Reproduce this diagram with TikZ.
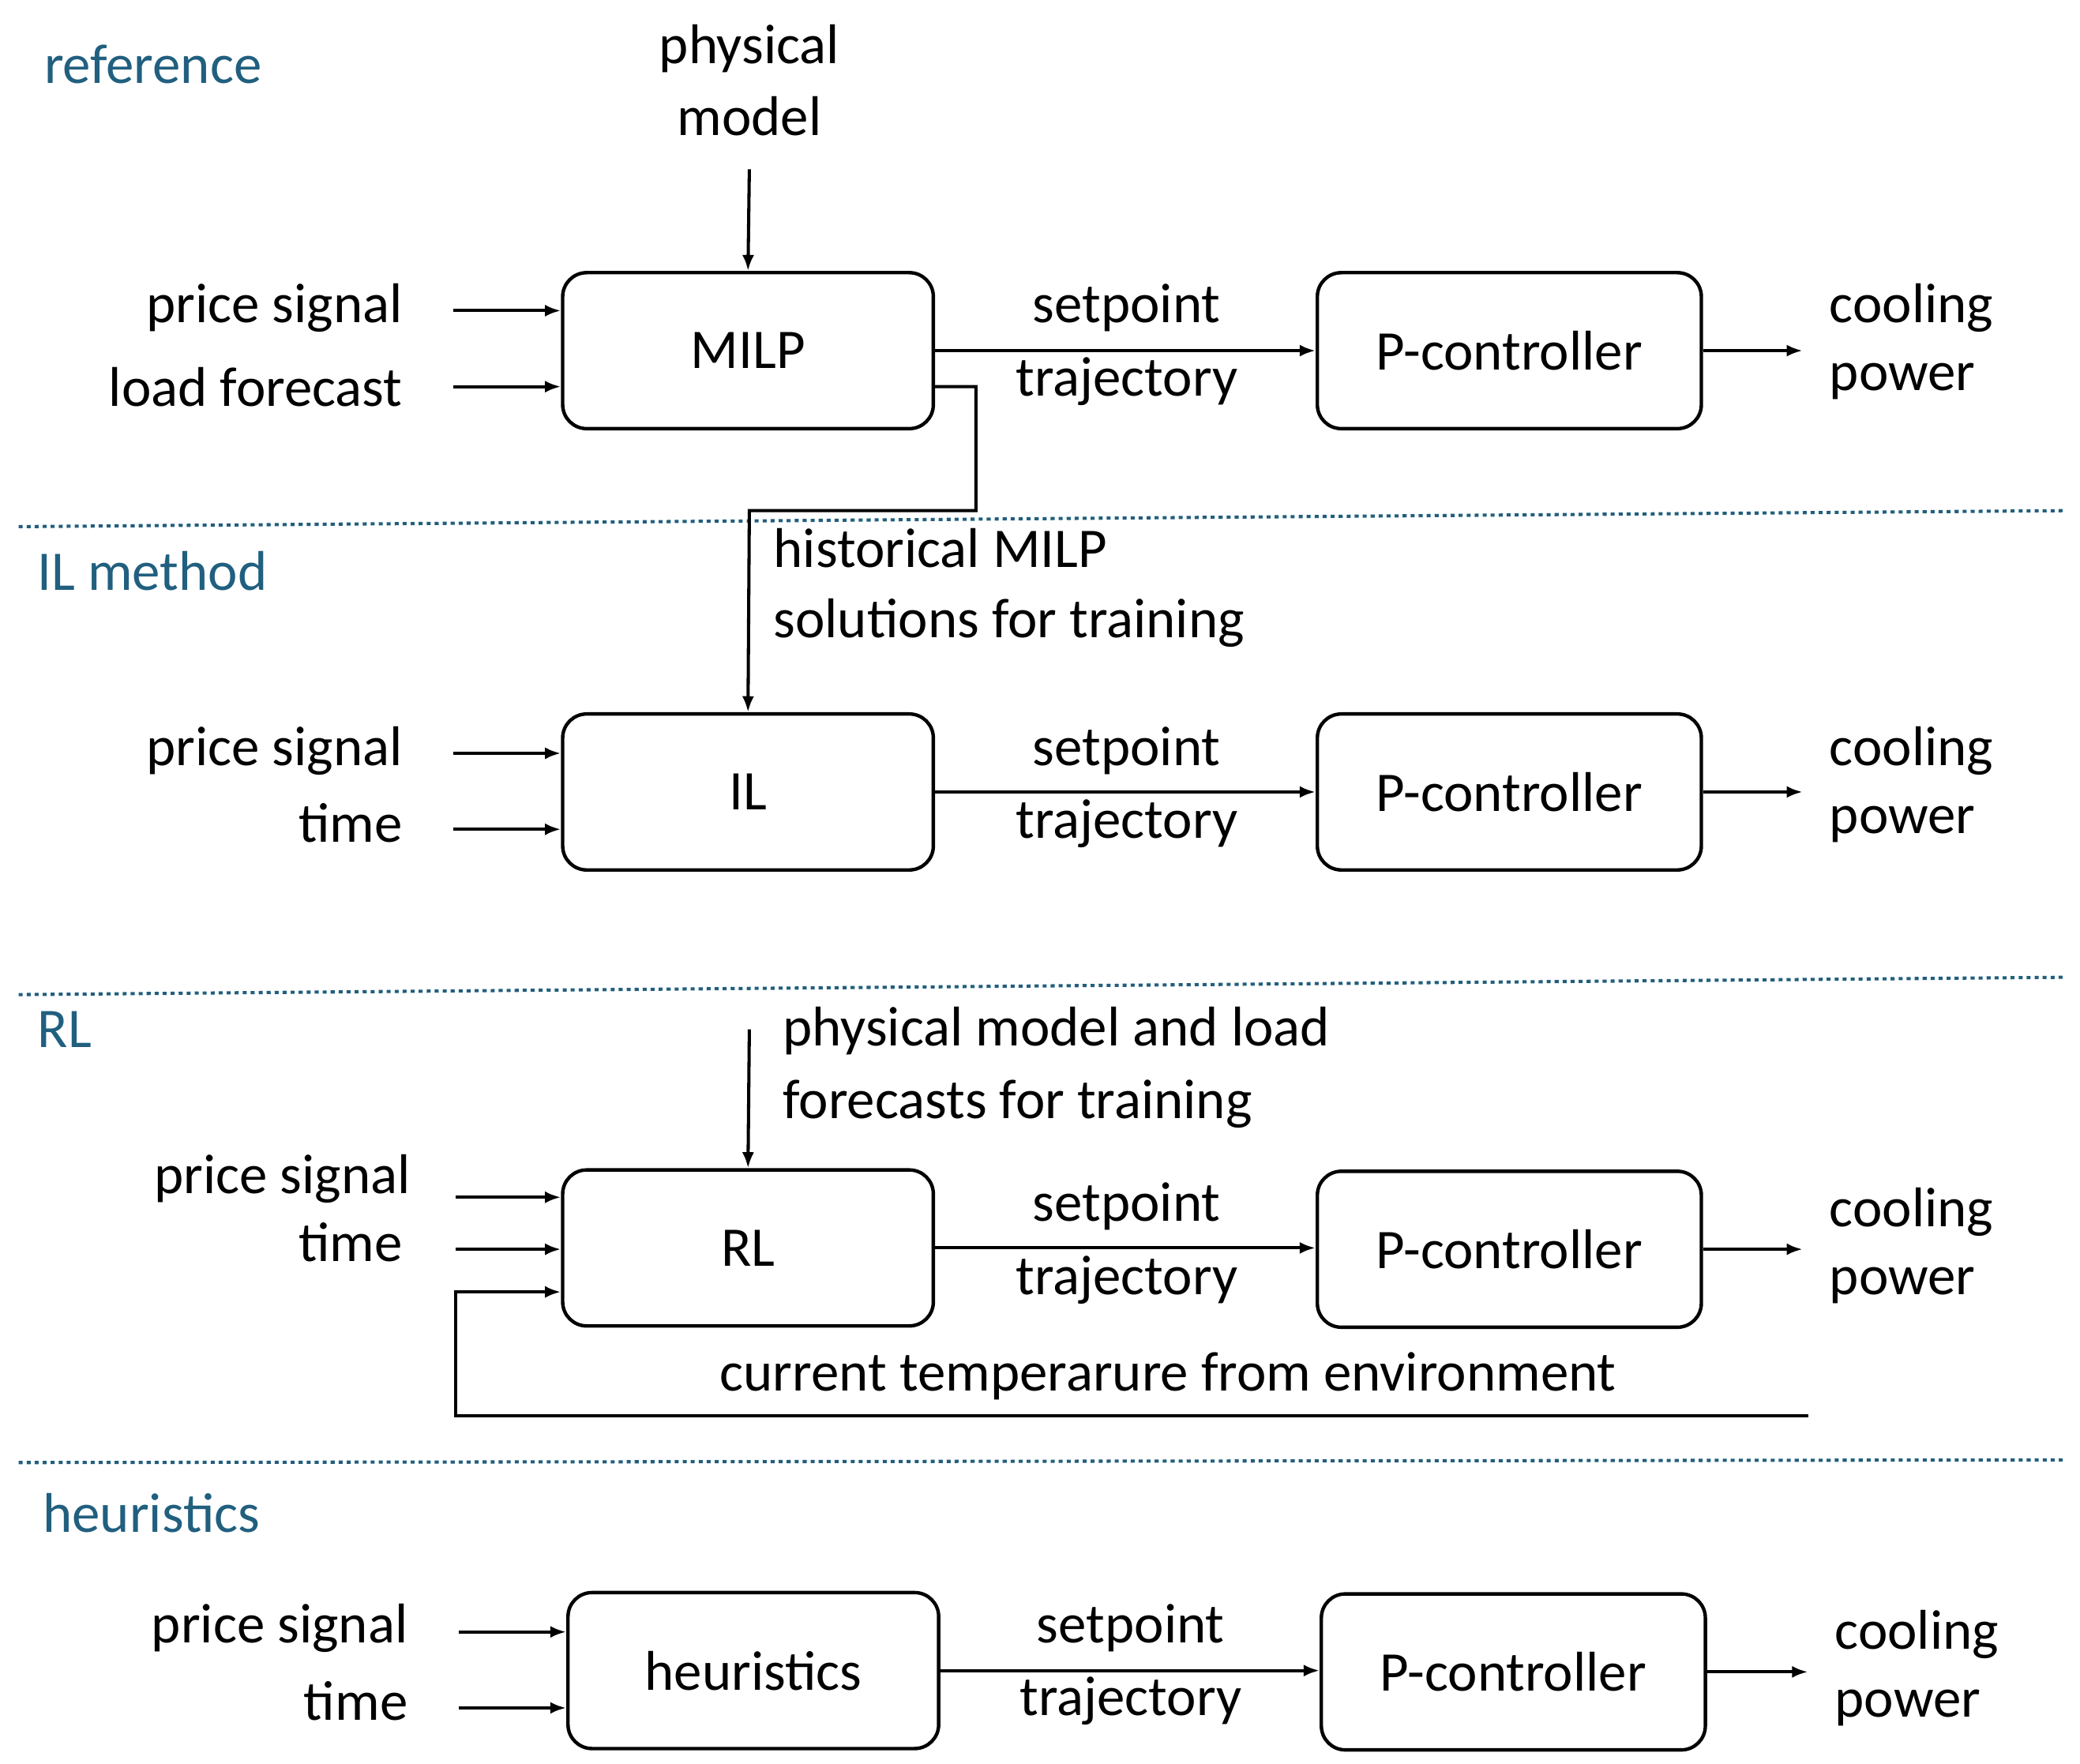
\documentclass[tikz,border=0pt]{standalone}
\usepackage{fontspec}
\setmainfont{Carlito}
\usetikzlibrary{arrows.meta}
\definecolor{teal}{HTML}{215F7F}
\begin{document}
\begin{tikzpicture}[x=1pt,y=-1pt,
  box/.style={draw,line width=2.6pt,rounded corners=18pt,minimum width=278pt,minimum height=117pt,inner sep=0},
  t/.style={font=\fontsize{42}{46}\selectfont,inner sep=0},
  sec/.style={t,text=teal,anchor=west},
  arr/.style={-{Latex[length=12pt,width=9pt]},line width=2.4pt},
  ln/.style={line width=2.4pt},
  dot/.style={teal,line width=2.4pt,dash pattern=on 3pt off 3pt}]
\useasboundingbox (0,0) rectangle (1560,1323);
% sections
\node[sec] (s1) at (33,48) {reference};
\node[sec] (s2) at (28,428) {IL method};
\node[sec] (s3) at (28,772) {RL};
\node[sec] (s4) at (32,1135) {heuristics};
\coordinate (d1a) at (14,395); \coordinate (d1b) at (1548,383);
\coordinate (d2a) at (14,746); \coordinate (d2b) at (1548,733);
\coordinate (d3a) at (14,1097); \coordinate (d3b) at (1548,1095);
\draw[dot] (d1a)--(d1b); \draw[dot] (d2a)--(d2b); \draw[dot] (d3a)--(d3b);
% row 1
\node[box] (milp) at (561,263) {}; \node[t] at (milp) {MILP};
\node[box,minimum width=288pt] (pc1) at (1132,263) {}; \node[t] at (pc1) {P-controller};
\node[t,anchor=east] (l11) at (302,231) {price signal};
\node[t,anchor=east] (l12) at (302,290) {load forecast};
\coordinate (a11) at (340,233); \coordinate (a12) at (340,290);
\draw[arr] (a11)--(milp.west|-a11);
\draw[arr] (a12)--(milp.west|-a12);
\node[t,align=center] (pm) at (562,60) {physical\\[8pt]model};
\coordinate (pm0) at (562,127);
\draw[arr] (pm0)--(milp.north);
\draw[arr] (milp.east)--(pc1.west);
\node[t] (sp1) at (845,231) {setpoint};
\node[t] (tr1) at (845,286) {trajectory};
\coordinate (o1) at (1352,263);
\draw[arr] (pc1.east)--(o1);
\node[t,anchor=west] (c1) at (1372,231) {cooling};
\node[t,anchor=west] (p1) at (1372,286) {power};
% row 2
\node[box] (il) at (561,594) {}; \node[t] at (il) {IL};
\node[box,minimum width=288pt] (pc2) at (1132,594) {}; \node[t] at (pc2) {P-controller};
\coordinate (f1) at (700,290);
\draw[arr,rounded corners=0] (f1)--(732,290)--(732,383)--(562,383)--(il.north);
\node[t,anchor=west] (h1) at (580,411) {historical MILP};
\node[t,anchor=west] (h2) at (580,467) {solutions for training};
\node[t,anchor=east] (l21) at (302,563) {price signal};
\node[t,anchor=east] (l22) at (302,617) {time};
\coordinate (a21) at (340,565); \coordinate (a22) at (340,622);
\draw[arr] (a21)--(il.west|-a21);
\draw[arr] (a22)--(il.west|-a22);
\draw[arr] (il.east)--(pc2.west);
\node[t] (sp2) at (845,563) {setpoint};
\node[t] (tr2) at (845,618) {trajectory};
\coordinate (o2) at (1352,594);
\draw[arr] (pc2.east)--(o2);
\node[t,anchor=west] (c2) at (1372,563) {cooling};
\node[t,anchor=west] (p2) at (1372,618) {power};
% row 3
\node[box] (rl) at (561,936) {}; \node[t] at (rl) {RL};
\node[box,minimum width=288pt] (pc3) at (1132,937) {}; \node[t] at (pc3) {P-controller};
\node[t,anchor=west] (r1) at (587,773) {physical model and load};
\node[t,anchor=west] (r2) at (587,828) {forecasts for training};
\coordinate (r0) at (562,772);
\draw[arr] (r0)--(rl.north);
\node[t,anchor=east] (l31) at (308,884) {price signal};
\node[t,anchor=east] (l32) at (302,932) {time};
\coordinate (a31) at (342,898); \coordinate (a32) at (342,937);
\draw[arr] (a31)--(rl.west|-a31);
\draw[arr] (a32)--(rl.west|-a32);
\coordinate (fb) at (1356,1062);
\draw[arr] (fb)--(342,1062)--(342,969)--(rl.west|-0,969);
\node[t] (ct) at (876,1032) {current temperarure from environment};
\draw[arr] (rl.east)--(pc3.west|-rl.east);
\node[t] (sp3) at (845,905) {setpoint};
\node[t] (tr3) at (845,960) {trajectory};
\coordinate (o3) at (1352,937);
\draw[arr] (pc3.east)--(o3);
\node[t,anchor=west] (c3) at (1372,909) {cooling};
\node[t,anchor=west] (p3) at (1372,964) {power};
% row 4
\node[box] (he) at (565,1253) {}; \node[t] at (he) {heuristics};
\node[box,minimum width=288pt] (pc4) at (1135,1254) {}; \node[t] at (pc4) {P-controller};
\node[t,anchor=east] (l41) at (306,1221) {price signal};
\node[t,anchor=east] (l42) at (306,1276) {time};
\coordinate (a41) at (344,1224); \coordinate (a42) at (344,1281);
\draw[arr] (a41)--(he.west|-a41);
\draw[arr] (a42)--(he.west|-a42);
\draw[arr] (he.east)--(pc4.west|-he.east);
\node[t] (sp4) at (848,1221) {setpoint};
\node[t] (tr4) at (848,1276) {trajectory};
\coordinate (o4) at (1356,1254);
\draw[arr] (pc4.east)--(o4);
\node[t,anchor=west] (c4) at (1376,1226) {cooling};
\node[t,anchor=west] (p4) at (1376,1281) {power};
\end{tikzpicture}
\end{document}
